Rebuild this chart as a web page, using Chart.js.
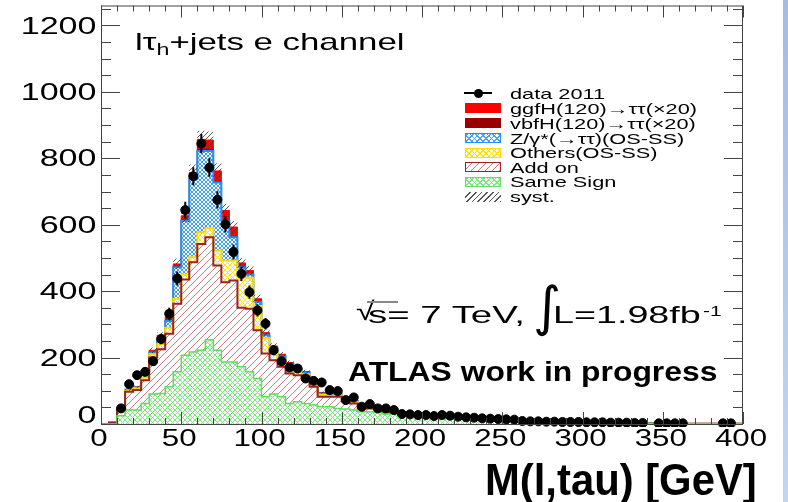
<!DOCTYPE html>
<html>
<head>
<meta charset="utf-8">
<script src="https://cdn.jsdelivr.net/npm/chart.js@4.4.1/dist/chart.umd.min.js"></script>
<style>
  html, body { margin: 0; padding: 0; background: #fff; }
  #wrap { position: relative; width: 788px; height: 502px; overflow: hidden;
          font-family: "Liberation Sans", Arial, sans-serif; color: #000; }
  #c { position: absolute; left: 0; top: 0; }
  .t { position: absolute; white-space: nowrap; line-height: 1; transform-origin: 0 0; }
  .strip { position: absolute; left: 783px; top: 0; width: 5px; height: 502px;
           background: linear-gradient(#a3bce6, #c4d5f0); }
  .sw { position: absolute; left: 465px; width: 36px; height: 10px; box-sizing: border-box; }
  .leg { font-size: 15px; left: 510px; transform: scaleX(1.45); }
</style>
</head>
<body>
<div id="wrap">
  <canvas id="c" width="788" height="502"></canvas>
  <div class="strip"></div>

  <div class="t" style="left:135px;top:30px;font-size:24px;transform:scaleX(1.45)">l&tau;<span style="font-size:16px;position:relative;top:5px">h</span>+jets e channel</div>

  <!-- legend -->
  <div style="position:absolute;left:464px;top:92px;width:28px;height:2px;background:#000"></div>
  <div style="position:absolute;left:474px;top:89px;width:9px;height:9px;border-radius:50%;background:#000"></div>
  <div class="sw" style="top:103px;background:#ff0000"></div>
  <div class="sw" style="top:118px;background:#990000"></div>
  <div class="sw" style="top:133px;border:1.5px solid #1e90ff;background:repeating-linear-gradient(45deg,#4aa2f5 0 1px,transparent 1px 4px),repeating-linear-gradient(-45deg,#4aa2f5 0 1px,transparent 1px 4px),#fff"></div>
  <div class="sw" style="top:148px;border:1.5px solid #ffe000;background:repeating-linear-gradient(45deg,#ffe600 0 1px,transparent 1px 4px),repeating-linear-gradient(-45deg,#ffe600 0 1px,transparent 1px 4px),#fff"></div>
  <div class="sw" style="top:162px;border:1.5px solid #992222;background:repeating-linear-gradient(-45deg,#c77 0 1px,#fff 1px 5px)"></div>
  <div class="sw" style="top:177px;border:1.5px solid #66dd66;background:repeating-linear-gradient(45deg,#7e7 0 1px,transparent 1px 4px),repeating-linear-gradient(-45deg,#7e7 0 1px,transparent 1px 4px),#fff"></div>
  <div class="sw" style="top:192px;background:repeating-linear-gradient(-45deg,#555 0 1px,#fff 1px 4px)"></div>

  <div class="t leg" style="top:86px">data 2011</div>
  <div class="t leg" style="top:101px">ggfH(120)&rarr;&tau;&tau;(&times;20)</div>
  <div class="t leg" style="top:116px">vbfH(120)&rarr;&tau;&tau;(&times;20)</div>
  <div class="t leg" style="top:131px">Z/&gamma;*(&rarr;&tau;&tau;)(OS-SS)</div>
  <div class="t leg" style="top:145px">Others(OS-SS)</div>
  <div class="t leg" style="top:160px">Add on</div>
  <div class="t leg" style="top:174px">Same Sign</div>
  <div class="t leg" style="top:189px">syst.</div>

  <!-- labels -->
  <div class="t" style="left:356px;top:298px;font-size:26px;transform:scaleX(1.3)">&radic;</div>
  <div style="position:absolute;left:367px;top:301px;width:31px;height:1.5px;background:#888"></div>
  <div class="t" style="left:368px;top:303px;font-size:24px;transform:scaleX(1.6)">s= 7 TeV,</div>
  <div class="t" style="left:533px;top:280px;font-size:54px;font-family:'DejaVu Sans'">&int;</div>
  <div class="t" style="left:553px;top:303px;font-size:24px;transform:scaleX(1.57)">L=1.98fb</div>
  <div class="t" style="left:703px;top:304px;font-size:14px;transform:scaleX(1.5)">-1</div>
  <div class="t" style="left:348px;top:359px;font-size:27px;font-weight:bold;transform:scaleX(1.18)">ATLAS work in progress</div>
  <div class="t" style="left:485px;top:458px;font-size:44px;font-weight:bold;transform:scaleX(0.95)">M(l,tau) [GeV]</div>
</div>

<script>
// histogram binning: 80 bins of 5 GeV from 0 to 400
const xLow = 0, xHigh = 400, binWidth = 5;
const yMax = 1260;
const xTicks = [0, 50, 100, 150, 200, 250, 300, 350, 400];
const yTicks = [0, 200, 400, 600, 800, 1000, 1200];
const xMinorStep = 10, yMinorStep = 50;

// data 2011 (null = empty bin, no marker)
const dataCounts = [
  null,null,47,120,147,157,189,256,332,438,
  644,746,844,772,675,601,518,452,397,342,
  302,222,189,170,167,137,130,125,102,99,
  72,80,52,60,47,47,42,30,29,27,
  27,24,27,25,22,20,19,17,16,15,
  14,13,9,8,8,7,7,6,6,6,
  5,5,5,4,4,4,3,3,null,2,
  2,2,2,null,null,null,null,2,2,null
];

// stack components, bottom to top
const sameSign = [
  0,0,25,42,42,62,90,92,112,157,
  207,217,222,254,222,187,187,172,157,137,
  82,90,82,62,67,62,57,52,52,47,
  45,42,37,37,35,30,30,27,25,22,
  22,20,18,16,15,14,13,12,11,10,
  9,8,7,7,6,6,5,5,5,4,
  4,4,3,3,3,3,2,2,2,2,
  2,2,1,1,1,1,1,1,1,1
];
const addOn = [
  0,4,17,55,60,70,110,133,160,205,
  228,270,320,308,255,240,245,178,190,145,
  130,102,90,90,80,80,55,30,30,35,
  27,20,10,10,10,5,5,3,3,3,
  3,2,2,2,2,2,2,2,2,2,
  2,2,1,1,1,1,1,1,1,1,
  1,0,0,0,0,0,0,0,0,0,
  0,0,0,0,0,0,0,0,0,0
];
const others = [
  0,0,3,4,6,8,10,15,18,15,
  15,15,35,28,45,65,60,95,93,73,
  46,23,23,18,11,8,6,6,4,4,
  4,4,3,3,2,2,2,1,1,1,
  1,1,1,1,1,1,1,1,1,1,
  1,1,1,1,1,1,0,0,0,0,
  0,0,0,0,0,0,0,0,0,0,
  0,0,0,0,0,0,0,0,0,0
];
const zTauTau = [
  0,1,1,2,2,10,5,17,20,95,
  162,236,245,232,205,120,70,27,10,12,
  9,13,8,10,7,5,4,4,4,3,
  3,3,3,2,2,2,1,1,1,1,
  1,1,1,1,1,1,1,1,1,1,
  1,0,0,0,0,0,0,0,0,0,
  0,0,0,0,0,0,0,0,0,0,
  0,0,0,0,0,0,0,0,0,0
];
const vbfH = [
  0,0,0,0,0,1,1,1,2,2,
  3,4,5,5,4,3,3,2,2,2,
  1,1,1,1,1,1,1,1,1,1,
  1,1,1,1,1,1,1,1,0,0,
  0,0,0,0,0,0,0,0,0,0,
  0,0,0,0,0,0,0,0,0,0,
  0,0,0,0,0,0,0,0,0,0,
  0,0,0,0,0,0,0,0,0,0
];
const ggfH = [
  0,0,1,1,2,5,6,9,10,8,
  12,15,30,28,31,28,28,11,10,8,
  7,6,6,4,4,2,2,2,2,2,
  1,1,1,1,0,0,0,0,1,0,
  0,0,0,0,0,0,0,0,0,0,
  0,0,0,0,0,0,0,0,0,0,
  0,0,0,0,0,0,0,0,0,0,
  0,0,0,0,0,0,0,0,0,0
];
// systematic uncertainty on the total, per bin
const systErr = [
  0,0,2,4,4,6,8,9,11,16,
  20,24,26,26,23,20,18,15,14,12,
  9,8,7,6,6,5,4,3,3,3,
  3,3,2,2,2,2,2,1,1,1,
  1,1,1,0,0,0,0,0,0,0,
  0,0,0,0,0,0,0,0,0,0,
  0,0,0,0,0,0,0,0,0,0,
  0,0,0,0,0,0,0,0,0,0
];

/* ---------- helpers ---------- */
const nBins = dataCounts.length;
const edge = i => xLow + i * binWidth;
const center = i => xLow + (i + 0.5) * binWidth;
// points at the left edge of each bin + closing point, drawn as steps
const steps = vals => vals.map((v, i) => ({ x: edge(i), y: v })).concat({ x: xHigh, y: vals[nBins - 1] });

const total = dataCounts.map((_, i) => sameSign[i] + addOn[i] + others[i] + zTauTau[i] + vbfH[i] + ggfH[i]);
const systLo = total.map((t, i) => t - systErr[i]);
const systHi = total.map((t, i) => t + systErr[i]);

function hatch(color, kind, size, lw) {
  const c = document.createElement('canvas');
  c.width = c.height = size;
  const g = c.getContext('2d');
  g.strokeStyle = color; g.lineWidth = lw;
  g.beginPath();
  if (kind !== 'back') { // "/"
    g.moveTo(0, size); g.lineTo(size, 0);
    g.moveTo(-1, 1); g.lineTo(1, -1);
    g.moveTo(size - 1, size + 1); g.lineTo(size + 1, size - 1);
  }
  if (kind !== 'fwd') { // "\"
    g.moveTo(0, 0); g.lineTo(size, size);
    g.moveTo(size - 1, -1); g.lineTo(size + 1, 1);
    g.moveTo(-1, size - 1); g.lineTo(1, size + 1);
  }
  g.stroke();
  return g.createPattern(c, 'repeat');
}

const stackSet = (label, vals, fill, border, bw, first) => ({
  label, data: steps(vals), yAxisID: 'y', stepped: true,
  backgroundColor: fill, borderColor: border, borderWidth: bw,
  pointRadius: 0, fill: first ? 'origin' : '-1', order: 1
});

/* ---------- ROOT style frame, ticks, labels, error bars ---------- */
function stretchText(ctx, text, x, y, sx, align) {
  ctx.save();
  ctx.translate(x, y);
  ctx.scale(sx, 1);
  ctx.textAlign = align;
  ctx.fillText(text, 0, 0);
  ctx.restore();
}

const rootAxes = {
  id: 'rootAxes',
  afterDatasetsDraw(chart) {
    const { ctx, chartArea: a, scales: { x, y2 } } = chart;
    ctx.save();
    ctx.beginPath(); ctx.rect(a.left, a.top, a.right - a.left, a.bottom - a.top); ctx.clip();
    ctx.strokeStyle = '#000'; ctx.lineWidth = 2;
    dataCounts.forEach((n, i) => {
      if (n == null) return;
      const e = Math.sqrt(n);
      const px = x.getPixelForValue(center(i));
      ctx.beginPath();
      ctx.moveTo(px, y2.getPixelForValue(n + e));
      ctx.lineTo(px, y2.getPixelForValue(Math.max(n - e, 0)));
      ctx.stroke();
    });
    ctx.restore();
  },
  afterDraw(chart) {
    const { ctx, chartArea: a, scales: { x, y } } = chart;
    ctx.save();
    ctx.strokeStyle = '#444'; ctx.lineWidth = 1;
    ctx.strokeRect(a.left + 0.5, a.top + 0.5, a.right - a.left - 1, a.bottom - a.top);
    ctx.beginPath();
    for (let v = 0; v <= yMax; v += yMinorStep) {
      const py = Math.round(y.getPixelForValue(v)) + 0.5;
      const len = v % 200 === 0 ? 19 : 10;
      ctx.moveTo(a.left, py); ctx.lineTo(a.left + len, py);
      ctx.moveTo(a.right, py); ctx.lineTo(a.right - len, py);
    }
    for (let v = xLow; v <= xHigh; v += xMinorStep) {
      const px = Math.round(x.getPixelForValue(v)) + 0.5;
      const len = v % 50 === 0 ? 12 : 6;
      ctx.moveTo(px, a.bottom); ctx.lineTo(px, a.bottom - len);
      ctx.moveTo(px, a.top); ctx.lineTo(px, a.top + len);
    }
    ctx.stroke();

    ctx.fillStyle = '#000';
    ctx.textBaseline = 'middle';
    ctx.font = '24px "Liberation Sans", Arial, sans-serif';
    yTicks.forEach(v => {
      const py = y.getPixelForValue(v) + (v === 0 ? -8 : 1.5);
      stretchText(ctx, String(v), a.left - 4.5, py, 1.42, 'right');
    });
    ctx.font = '23px "Liberation Sans", Arial, sans-serif';
    xTicks.forEach(v => {
      stretchText(ctx, String(v), x.getPixelForValue(v) - 2, a.bottom + 16, 1.36, 'center');
    });
    ctx.restore();
  }
};

new Chart(document.getElementById('c'), {
  type: 'line',
  data: {
    datasets: [
      { label: 'data 2011', data: dataCounts.map((v, i) => ({ x: center(i), y: v })),
        yAxisID: 'y2', showLine: false, pointRadius: 4.5, pointHoverRadius: 4.5,
        pointBackgroundColor: '#000', pointBorderColor: '#000', order: 0, clip: 3 },
      { label: 'systLo', data: steps(systLo), yAxisID: 'y2', stepped: true,
        borderWidth: 0, pointRadius: 0, fill: false, order: 0 },
      { label: 'syst.', data: steps(systHi), yAxisID: 'y2', stepped: true,
        borderWidth: 0, pointRadius: 0, fill: '-1',
        backgroundColor: hatch('#333', 'fwd', 5, 0.8), order: 0 },
      stackSet('Same Sign', sameSign, hatch('#7be87b', 'cross', 5, 1), '#5fdc5f', 1.5, true),
      stackSet('Add on', addOn, hatch('#c98080', 'fwd', 7, 1), '#992222', 2, false),
      stackSet('Others(OS-SS)', others, hatch('#ffe21a', 'cross', 5, 1), '#ffd800', 2, false),
      stackSet('Z/γ*(→ττ)(OS-SS)', zTauTau, hatch('#3f9ff5', 'cross', 4, 1), '#1e90ff', 2, false),
      stackSet('vbfH(120)→ττ(×20)', vbfH, '#990000', '#990000', 1, false),
      stackSet('ggfH(120)→ττ(×20)', ggfH, '#ff0000', '#ff0000', 1, false)
    ]
  },
  options: {
    responsive: false,
    devicePixelRatio: 1,
    animation: false,
    layout: { padding: { left: 101, top: 4, right: 45, bottom: 78 } },
    scales: {
      x: { type: 'linear', min: xLow, max: xHigh, display: false },
      y: { stacked: true, min: 0, max: yMax, display: false },
      y2: { stacked: false, min: 0, max: yMax, display: false }
    },
    plugins: { legend: { display: false }, tooltip: { enabled: false } }
  },
  plugins: [rootAxes]
});
</script>
</body>
</html>
